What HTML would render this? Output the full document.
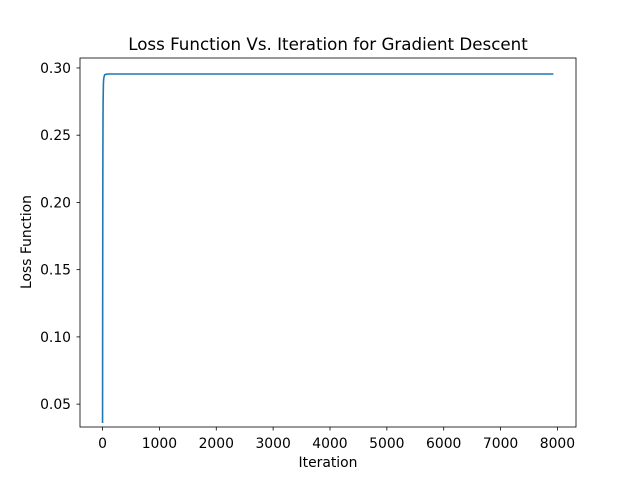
<!DOCTYPE html>
<html><head><meta charset="utf-8"><style>
body{margin:0;background:#fff;}
svg text{font-family:"DejaVu Sans","Liberation Sans",sans-serif;fill:#000;}
</style></head><body>
<svg id="chart" width="640" height="480" viewBox="0 0 640 480">
<rect width="640" height="480" fill="#fff"/>
<text x="328" y="50" font-size="16.7" text-anchor="middle">Loss Function Vs. Iteration for Gradient Descent</text>
<text x="328" y="467" font-size="13.9" text-anchor="middle">Iteration</text>
<text transform="translate(31,242) rotate(-90)" font-size="13.9" text-anchor="middle">Loss Function</text>
<g id="ticks"></g>
<path id="line" fill="none" stroke="#1f77b4" stroke-width="1.6"/>
<rect x="80" y="58" width="496" height="369" fill="none" stroke="#000" stroke-width="0.8"/>
</svg>
<script>
const iterations=[0,2,4,6,8,10,15,20,30,40,60,100,7930];
const lossValues=[0.036,0.12,0.19,0.235,0.26,0.275,0.288,0.292,0.294,0.295,0.2953,0.2955,0.2955];
const xTicks=[0,1000,2000,3000,4000,5000,6000,7000,8000];
const yTicks=[0.05,0.10,0.15,0.20,0.25,0.30];
const yTickLabels=["0.05","0.10","0.15","0.20","0.25","0.30"];
const X0=80,X1=576,Y0=58,Y1=427;
const xmin=-396.5,xmax=8326.5,ymin=0.0330,ymax=0.3074;
function sx(v){return X0+(v-xmin)/(xmax-xmin)*(X1-X0);}
function sy(v){return Y1-(v-ymin)/(ymax-ymin)*(Y1-Y0);}
const ns="http://www.w3.org/2000/svg";
const g=document.getElementById('ticks');
function mk(t,a){const e=document.createElementNS(ns,t);for(const k in a)e.setAttribute(k,a[k]);g.appendChild(e);return e;}
xTicks.forEach(v=>{
  const l=mk('line',{x1:sx(v),x2:sx(v),y1:Y1,y2:Y1+3.5,stroke:'#000','stroke-width':0.8});
  
  
  const t=mk('text',{x:sx(v),y:Y1+21,'font-size':13.9,'text-anchor':'middle'});
  t.textContent=String(v);
  
  
});
yTicks.forEach((v,i)=>{
  const l=mk('line',{x1:X0-3.5,x2:X0,y1:sy(v),y2:sy(v),stroke:'#000','stroke-width':0.8});
  
  
  const t=mk('text',{x:X0-9,y:sy(v)+5,'font-size':13.9,'text-anchor':'end'});
  t.textContent=yTickLabels[i];
  
  
});
document.getElementById('line').setAttribute('d',iterations.map((x,i)=>(i?'L':'M')+sx(x).toFixed(2)+','+sy(lossValues[i]).toFixed(2)).join(''));
</script>
</body></html>
